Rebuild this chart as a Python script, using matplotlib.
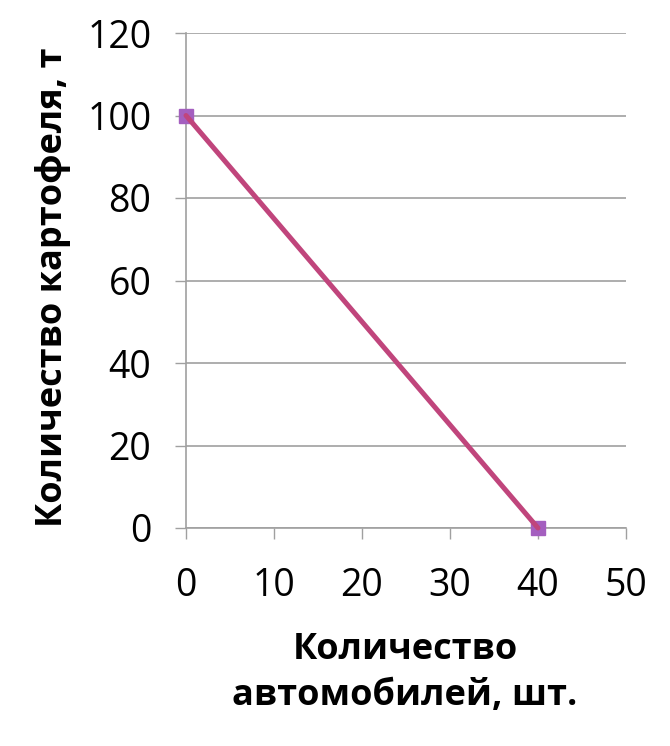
import matplotlib
matplotlib.use('Agg')
import matplotlib.pyplot as plt

# production possibilities: cars vs potatoes
cars = [0, 40]
potatoes = [100, 0]

x_ticks = [0, 10, 20, 30, 40, 50]
y_ticks = [0, 20, 40, 60, 80, 100, 120]

plt.rcParams['font.family'] = ['Open Sans', 'DejaVu Sans']

fig = plt.figure(figsize=(6.7, 7.46), dpi=100)
ax = fig.add_axes([186 / 670, 1 - 528 / 746, 440 / 670, 495 / 746])

# markers under the line, like the original
ax.plot(cars, potatoes, linestyle='none', marker='s', markersize=10,
        color='#a45fbf', zorder=3, clip_on=False)
ax.plot(cars, potatoes, color='#c0457c', linewidth=3.6, zorder=4,
        solid_capstyle='round', clip_on=False)

ax.set_xlim(0, 50)
ax.set_ylim(0, 120)
ax.set_xticks(x_ticks)
ax.set_yticks(y_ticks)
ax.tick_params(axis='both', labelsize=27, length=8, width=1, color='#a0a0a0',
               direction='out')
ax.tick_params(axis='x', pad=20)
ax.tick_params(axis='y', pad=17)
ax.grid(axis='y', color='#a0a0a0', linewidth=1.2)
ax.set_axisbelow(True)

for side in ['top', 'right']:
    ax.spines[side].set_visible(False)
for side in ['left', 'bottom']:
    ax.spines[side].set_color('#a0a0a0')
    ax.spines[side].set_linewidth(1.2)

fig.text(405 / 670, 1 - 673 / 746, 'Количество\nавтомобилей, шт.', ha='center',
         va='center', fontsize=26, fontweight='bold', linespacing=1.4)
fig.text(53 / 670, 1 - 287 / 746, 'Количество картофеля, т', ha='center',
         va='center', rotation=90, fontsize=26, fontweight='bold')

fig.savefig('out.png', dpi=100)
